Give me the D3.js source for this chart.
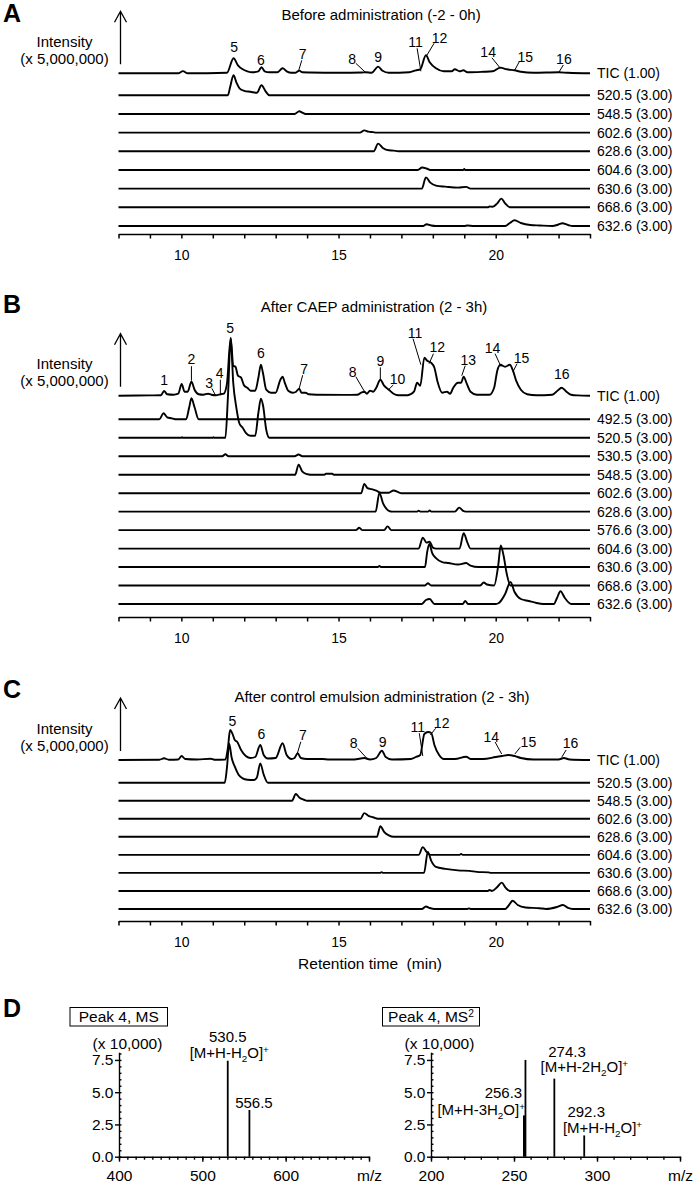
<!DOCTYPE html>
<html><head><meta charset="utf-8">
<script src="https://cdn.jsdelivr.net/npm/d3@7"></script>
<style>
body{margin:0;background:#fff}
svg{display:block}
text{font-family:"Liberation Sans",Arial,Helvetica,sans-serif;fill:#000}
</style>
</head><body><svg id="c" width="697" height="1183"></svg>
<script>
// ---------------- DATA ----------------
const timeDomain = [8, 23];
const timeTicks = [8,9,10,11,12,13,14,15,16,17,18,19,20,21,22,23];
const timeTickLabels = [10, 15, 20];

const titles = ["Before administration (-2 - 0h)", "After CAEP administration (2 - 3h)", "After control emulsion administration (2 - 3h)"];
const panelLetters = ["A", "B", "C"];
const ticMag = "1.00";
const eicMag = "3.00";

// TIC traces: [retention time (min), relative intensity]
const ticA = [[8,0],[9.9,0],[10.05,2.2],[10.2,0],[11.45,0.5],[11.66,15],[11.8,8],[11.95,4],[12.1,2],[12.25,1],[12.45,2],[12.55,6],[12.65,2],[12.8,1],[13.05,1],[13.22,5],[13.35,2],[13.5,0.5],[13.62,0.5],[13.75,2.7],[13.85,1],[14.1,0.8],[15.0,0.5],[15.75,0.8],[15.87,1],[16.05,0.5],[16.26,6.7],[16.4,2.5],[16.6,0.5],[17.25,1],[17.46,3],[17.6,4],[17.78,18],[17.9,11],[18.1,5],[18.35,2],[18.6,2],[18.7,4],[18.85,2],[18.97,3],[19.1,1],[19.6,1.5],[19.9,2],[20.15,5.7],[20.35,4],[20.6,3],[20.8,1.5],[21.2,0.5],[22.0,1],[22.3,0.5],[23,0]];
const ticB = [[8,0],[9.0,0.3],[9.35,0.5],[9.45,4.7],[9.55,1.5],[9.75,1],[9.9,2],[10.01,11.7],[10.1,4],[10.2,4],[10.32,14],[10.42,6],[10.55,1.5],[10.7,1],[10.85,2],[10.95,1],[11.1,0.5],[11.25,1.5],[11.35,2],[11.45,12],[11.57,58],[11.65,30],[11.72,29],[11.8,20],[11.9,18],[12.0,10],[12.1,8],[12.2,5],[12.35,5],[12.45,18],[12.53,31],[12.6,22],[12.7,6],[12.85,3],[13.0,3],[13.15,16],[13.22,19],[13.3,12],[13.4,5],[13.55,3],[13.65,4],[13.75,7],[13.82,3],[13.95,3],[14.05,1.5],[14.3,1],[15.2,0.8],[15.6,1],[15.72,3],[15.82,4],[15.9,2],[16.0,5],[16.1,4],[16.2,8],[16.33,16],[16.45,10],[16.6,6],[16.75,2],[16.9,0.5],[17.2,0.5],[17.4,4],[17.5,13],[17.6,10],[17.73,38],[17.82,35],[17.94,33],[18.05,28],[18.15,14],[18.3,3],[18.45,4],[18.55,2],[18.65,8],[18.8,13],[18.9,13],[18.98,19],[19.08,12],[19.2,4],[19.4,1],[19.8,1],[19.95,8],[20.05,25],[20.15,31],[20.3,29],[20.45,31],[20.55,25],[20.65,15],[20.8,6],[21.0,1.5],[21.3,0.5],[21.8,1],[22.0,6],[22.1,8],[22.25,4],[22.4,1],[22.6,0.3],[23,0]];
const ticC = [[8,0],[9.3,0.3],[9.45,1.7],[9.6,0.3],[9.9,0.5],[10.01,4],[10.12,1],[10.5,0.5],[10.93,1.3],[11.05,0.3],[11.4,0.5],[11.48,12],[11.55,30],[11.62,26.7],[11.7,20],[11.78,18],[11.9,10],[12.05,4],[12.2,2],[12.35,3],[12.51,15],[12.62,5],[12.75,1.5],[13.0,2],[13.22,16.7],[13.35,5],[13.5,1],[13.6,2],[13.7,6.7],[13.8,2],[14.0,1],[14.49,1],[14.7,0.5],[15.5,0.5],[15.82,2],[16.0,0.5],[16.2,2],[16.38,9.3],[16.5,3],[16.7,0.5],[17.3,1],[17.46,3],[17.6,5],[17.73,26],[17.85,28],[17.95,27],[18.05,15],[18.2,5],[18.35,1],[18.7,1],[19.06,3.3],[19.2,1],[19.6,1],[20.0,3],[20.2,4],[20.4,5],[20.6,4],[20.8,2],[21.2,0.5],[22.0,0.5],[22.17,2],[22.35,0.5],[23,0]];

// Extracted ion chromatograms (m/z) per panel
const eicNamesA = ["520.5","548.5","602.6","628.6","604.6","630.6","668.6","632.6"];
const eicDataA = [
  [[8,0],[11.48,0],[11.55,8],[11.66,20],[11.75,13],[11.85,7],[12.0,4.5],[12.2,3.5],[12.4,2.5],[12.55,10],[12.68,4],[12.8,0],[23,0]],
  [[8,0],[13.6,0],[13.75,2.7],[13.85,1.3],[13.95,0],[23,0]],
  [[8,0],[15.68,0],[15.82,2.3],[15.95,1],[16.1,0.5],[16.2,0],[23,0]],
  [[8,0],[16.12,0],[16.26,7.7],[16.42,3],[16.6,1],[16.75,0.7],[16.9,0],[23,0]],
  [[8,0],[17.52,0],[17.66,2.5],[17.8,1.5],[17.92,0],[18.97,0],[19.0,1],[19.03,0],[23,0]],
  [[8,0],[17.65,0],[17.78,11.3],[17.92,6],[18.1,3],[18.4,2],[18.8,1],[19.06,1.8],[19.2,0],[23,0]],
  [[8,0],[19.75,0],[19.8,0.8],[19.9,0.5],[20.05,4],[20.18,8.7],[20.3,4],[20.45,0],[23,0]],
  [[8,0],[17.7,0],[17.8,1.8],[17.95,0.5],[18.1,0],[19.0,0],[19.1,0.5],[19.3,0],[20.3,0],[20.45,3],[20.6,5.7],[20.8,3],[21.1,1],[21.4,0.5],[21.8,0],[22.0,1.5],[22.12,2.7],[22.3,1],[22.45,0],[23,0]]
];
const eicNamesB = ["492.5","520.5","530.5","548.5","602.6","628.6","576.6","604.6","630.6","668.6","632.6"];
const eicDataB = [
  [[8,0],[9.3,0],[9.43,6],[9.55,2],[9.7,1],[9.8,0],[10.15,0],[10.25,12],[10.32,21],[10.42,12],[10.55,0],[23,0]],
  [[8,0],[10.0,0],[10.02,0.6],[10.05,0],[11.0,0],[11.02,0.6],[11.05,0],[11.4,0],[11.48,40],[11.57,99],[11.65,55],[11.75,30],[11.85,14],[11.95,10],[12.05,5],[12.2,2],[12.35,2],[12.45,25],[12.53,39],[12.6,32],[12.7,8],[12.8,0],[23,0]],
  [[8,0],[11.3,0],[11.4,2],[11.5,0],[13.6,0],[13.73,1.7],[13.85,0],[23,0]],
  [[8,0],[13.62,0],[13.73,10],[13.85,3],[14.0,0.5],[14.1,0],[14.55,0],[14.6,1],[14.8,1],[14.85,0],[23,0]],
  [[8,0],[15.72,0],[15.82,9.3],[15.92,5],[16.05,4],[16.2,2.5],[16.35,0.5],[16.6,0.5],[16.75,2.7],[16.9,1],[17.0,0],[23,0]],
  [[8,0],[16.18,0],[16.3,18.7],[16.42,8],[16.52,3],[16.62,0.5],[16.7,0],[17.5,0],[17.55,1],[17.6,0],[17.85,0],[17.9,1.3],[17.95,0],[18.7,0],[18.84,4],[18.95,1],[19.05,0],[23,0]],
  [[8,0],[15.55,0],[15.66,2.3],[15.75,0],[16.45,0],[16.56,3.7],[16.68,0],[23,0]],
  [[8,0],[17.55,0],[17.68,11],[17.8,6],[17.9,7],[18.0,1],[18.1,0],[18.85,0],[18.98,15.3],[19.1,6],[19.2,0],[23,0]],
  [[8,0],[16.25,0],[16.3,1],[16.35,0],[17.75,0],[17.82,15],[17.89,23],[17.98,14],[18.1,9],[18.3,5],[18.5,4],[18.8,2.5],[19.06,4],[19.2,1.5],[19.45,0],[23,0]],
  [[8,0],[17.75,0],[17.84,2.3],[17.95,0],[19.5,0],[19.62,3],[19.72,1],[19.95,0],[20.08,20],[20.16,40],[20.25,30],[20.35,12],[20.47,0],[23,0]],
  [[8,0],[17.65,0],[17.78,4],[17.9,5],[18.05,0],[18.95,0],[19.03,3],[19.12,0],[20.0,0],[20.1,1],[20.3,10],[20.47,22],[20.6,12],[20.8,5],[21.05,3],[21.3,1],[21.5,0],[21.85,0],[21.95,6],[22.06,12.7],[22.2,6],[22.4,0],[23,0]]
];
const eicNamesC = ["520.5","548.5","602.6","628.6","604.6","630.6","668.6","632.6"];
const eicDataC = [
  [[8,0],[11.38,0],[11.45,15],[11.52,39],[11.6,25],[11.7,16],[11.82,8],[11.95,4.3],[12.1,3],[12.3,2.7],[12.4,5],[12.51,19.3],[12.62,8],[12.75,0],[23,0]],
  [[8,0],[13.52,0],[13.64,6.7],[13.76,3],[13.9,1],[14.0,0],[23,0]],
  [[8,0],[15.7,0],[15.82,5.7],[15.95,3],[16.1,1.5],[16.25,0],[23,0]],
  [[8,0],[16.22,0],[16.33,10.7],[16.45,5],[16.6,1.5],[16.75,0],[23,0]],
  [[8,0],[17.55,0],[17.68,7.7],[17.8,3],[17.92,0],[18.85,0],[18.9,1],[18.95,0],[23,0]],
  [[8,0],[16.32,0],[16.37,0.7],[16.42,0],[17.72,0],[17.84,21],[17.95,12],[18.1,6],[18.4,4],[18.8,2.5],[19.16,2],[19.4,1],[19.77,0.5],[19.85,0],[23,0]],
  [[8,0],[19.75,0],[19.8,1],[19.88,0],[20.05,4],[20.19,8.3],[20.32,3],[20.45,0],[23,0]],
  [[8,0],[17.65,0],[17.78,2.5],[17.9,1],[18.05,0],[19.1,0],[19.15,0.5],[19.2,0],[20.3,0],[20.4,3],[20.54,8.3],[20.7,4],[20.95,1.5],[21.4,0.8],[21.6,0],[21.95,2],[22.14,4],[22.3,1],[22.45,0],[23,0]]
];

// Peak labels: [label, time, level, leader (t1, level1, t2, level2) or null]
const peaksA = [
  ["5",11.68,26.6,null],["6",12.53,13.5,null],["7",13.86,19.3,[13.83,13,13.72,1.5]],
  ["8",15.43,14.3,[15.55,10,15.88,0.3]],["9",16.26,16,null],
  ["11",17.45,31.5,[17.5,25,17.62,2]],["12",18.21,35.3,[18.04,30,17.81,18]],
  ["14",19.76,21.3,[19.88,15.5,20.15,5]],["15",20.94,16.3,[20.75,11.6,20.6,2.8]],
  ["16",22.17,14.3,[22.15,8.3,22.0,0.5]]
];
const peaksB = [
  ["1",9.45,15.7,null],["2",10.32,36.3,[10.32,29.5,10.32,15]],["3",10.88,12.3,[10.97,7.3,11.08,0.8]],
  ["4",11.22,22.3,[11.24,16,11.24,1.7]],["5",11.55,67.3,null],["6",12.53,42.3,null],
  ["7",13.91,26.3,[13.86,20.5,13.75,7.5]],["8",15.45,24,[15.55,19,15.82,4.5]],
  ["9",16.33,35,[16.33,28.3,16.33,16]],["10",16.88,16.3,[16.74,10.7,16.58,5.7]],
  ["11",17.43,63,[17.37,57,17.62,31]],["12",18.14,49,[18.02,42,17.88,32]],
  ["13",19.13,35.7,[19.03,30,18.92,20]],["14",19.9,48,[19.98,42,20.17,29]],
  ["15",20.82,37.3,[20.68,32,20.55,24]],["16",22.1,21.3,null]
];
const peaksC = [
  ["5",11.62,39.3,null],["6",12.55,26,null],["7",13.87,25,[13.8,18.3,13.69,6.7]],
  ["8",15.48,16.7,[15.61,11.7,15.9,1.7]],["9",16.4,18.3,null],
  ["11",17.52,33.3,[17.57,26.7,17.68,4]],["12",18.28,36.7,[18.09,31.7,17.92,25]],
  ["14",19.86,23.3,[19.98,18,20.19,6]],["15",21.04,18.3,[20.78,12.7,20.61,6]],
  ["16",22.38,16.7,[22.24,10,22.1,2.7]]
];

// Mass spectra (intensity x 10,000)
const msMz = [530.5, 556.5];
const msInt = [7.44, 3.62];
const ms2Mz = [256.2, 256.9, 274.3, 292.3];
const ms2Int = [3.2, 7.5, 6.05, 1.65];
const msXTicks = [400, 500, 600];
const ms2XTicks = [200, 250, 300];
const msYTicks = [0, 2.5, 5.0, 7.5];

// ---------------- LAYOUT ----------------
const svg = d3.select("#c");
const FONT = 15;
const x = d3.scaleLinear().domain(timeDomain).range([118.5, 590]);
const lev = d3.scaleLinear().domain([0, 100]).range([0, 100]);

const layouts = [
  {ticY:73.3, eicY0:95.3, step:18.67, axisY:234, letterY:22, titleX:381, titleY:20},
  {ticY:395.7, eicY0:419.3, step:18.47, axisY:617, letterY:313, titleX:374, titleY:312},
  {ticY:760, eicY0:782.7, step:18.04, axisY:921, letterY:698, titleX:382, titleY:702}
];
const panelData = [
  {tic:ticA, names:eicNamesA, eics:eicDataA, peaks:peaksA},
  {tic:ticB, names:eicNamesB, eics:eicDataB, peaks:peaksB},
  {tic:ticC, names:eicNamesC, eics:eicDataC, peaks:peaksC}
];

panelData.forEach((pd, i) => {
  const L = layouts[i];
  const g = svg.append("g");
  g.append("text").attr("x", 3).attr("y", L.letterY).attr("font-size", 25).attr("font-weight", "bold").text(panelLetters[i]);
  g.append("text").attr("x", L.titleX).attr("y", L.titleY).attr("text-anchor", "middle").attr("font-size", FONT).text(titles[i]);
  // intensity arrow
  const ax = 120.5, tip = L.ticY - 62, bot = L.ticY - 9;
  g.append("path").attr("d", `M${ax},${bot}V${tip}M${ax-6},${tip+11}L${ax},${tip}L${ax+6},${tip+11}`)
    .attr("fill", "none").attr("stroke", "#000").attr("stroke-width", 1.3);
  g.append("text").attr("x", 64.5).attr("y", L.ticY - 26.5).attr("text-anchor", "middle").attr("font-size", FONT).text("Intensity");
  g.append("text").attr("x", 64.5).attr("y", L.ticY - 9.5).attr("text-anchor", "middle").attr("font-size", FONT).text("(x 5,000,000)");

  const traces = [{base:L.ticY, data:pd.tic, label:"TIC (" + ticMag + ")"}]
    .concat(pd.eics.map((d, k) => ({base:L.eicY0 + k * L.step, data:d, label:pd.names[k] + " (" + eicMag + ")"})));
  traces.forEach(tr => {
    const line = d3.line().x(d => x(d[0])).y(d => tr.base - lev(d[1])).curve(d3.curveMonotoneX);
    g.append("path").attr("d", line(tr.data)).attr("fill", "none").attr("stroke", "#000")
      .attr("stroke-width", 1.9).attr("stroke-linejoin", "round");
    g.append("text").attr("x", 597).attr("y", tr.base + 5).attr("font-size", 14).text(tr.label);
  });

  pd.peaks.forEach(p => {
    g.append("text").attr("x", x(p[1])).attr("y", L.ticY - lev(p[2]) + 5).attr("text-anchor", "middle").attr("font-size", 14).text(p[0]);
    if (p[3]) {
      const q = p[3];
      g.append("line").attr("x1", x(q[0])).attr("y1", L.ticY - lev(q[1])).attr("x2", x(q[2])).attr("y2", L.ticY - lev(q[3]))
        .attr("stroke", "#000").attr("stroke-width", 1);
    }
  });

  const axis = d3.axisBottom(x).tickValues(timeTicks).tickSize(4.5).tickSizeOuter(0).tickPadding(11.5)
    .tickFormat(d => timeTickLabels.includes(d) ? d : "");
  const ag = g.append("g").attr("transform", `translate(0,${L.axisY})`).call(axis);
  ag.selectAll("path,line").attr("stroke", "#000").attr("stroke-width", 1.5);
  ag.selectAll("text").attr("font-size", 14).attr("font-family", null);
});

svg.append("text").attr("x", 370).attr("y", 968.5).attr("text-anchor", "middle").attr("font-size", 15.5)
  .style("white-space", "pre").text("Retention time  (min)");

// ---------------- PANEL D ----------------
svg.append("text").attr("x", 3).attr("y", 1017).attr("font-size", 25).attr("font-weight", "bold").text("D");

const yD = d3.scaleLinear().domain([0, 8.1]).range([1156.7, 1052.2]);

function richText(sel, parts, size) {
  let shift = 0;
  parts.forEach(([s, kind]) => {
    const target = kind === "sub" ? 4 : kind === "sup" ? -5 : 0;
    sel.append("tspan").attr("dy", target - shift).attr("font-size", kind ? size * 0.66 : size).text(s);
    shift = target;
  });
}

function spectrum(cfg) {
  const g = svg.append("g");
  const xs = d3.scaleLinear().domain(cfg.domain).range(cfg.range);
  // box title
  g.append("rect").attr("x", cfg.box[0]).attr("y", 1007.5).attr("width", cfg.box[1] - cfg.box[0]).attr("height", 18.5)
    .attr("fill", "none").attr("stroke", "#000").attr("stroke-width", 1);
  const bt = g.append("text").attr("x", (cfg.box[0] + cfg.box[1]) / 2).attr("y", 1022).attr("text-anchor", "middle");
  richText(bt, cfg.boxText, 15.5);
  g.append("text").attr("x", cfg.range[0] + 8.5).attr("y", 1048.5).attr("text-anchor", "middle").attr("font-size", 15.5).text("(x 10,000)");

  // y axis: major left, minor right
  const ya = g.append("g").attr("transform", `translate(${cfg.range[0]},0)`)
    .call(d3.axisLeft(yD).tickValues(msYTicks).tickFormat(d3.format(".1f")).tickSize(4).tickSizeOuter(0).tickPadding(1.5));
  ya.selectAll("text").attr("font-size", 15.5).attr("font-family", null);
  g.append("g").attr("transform", `translate(${cfg.range[0]},0)`)
    .call(d3.axisRight(yD).tickValues(d3.range(0, 8.01, 0.5)).tickSize(2.5).tickSizeOuter(0).tickFormat(""))
    .select(".domain").remove();

  // x axis: major + minor
  const xa = g.append("g").attr("transform", `translate(0,${yD(0)})`)
    .call(d3.axisBottom(xs).tickValues(cfg.ticks.concat([cfg.domain[1]])).tickSize(5).tickSizeOuter(0).tickPadding(8)
      .tickFormat(d => d === cfg.domain[1] ? "m/z" : d));
  xa.selectAll("text").attr("font-size", 15.5).attr("font-family", null);
  g.append("g").attr("transform", `translate(0,${yD(0)})`)
    .call(d3.axisBottom(xs).tickValues(d3.range(cfg.domain[0], cfg.domain[1] + 0.1, 10)).tickSize(3).tickFormat(""))
    .select(".domain").remove();
  g.selectAll(".domain,.tick line").attr("stroke", "#000").attr("stroke-width", 1.4);

  // peaks
  cfg.mz.forEach((m, k) => {
    g.append("line").attr("x1", xs(m)).attr("x2", xs(m)).attr("y1", yD(0)).attr("y2", yD(cfg.int[k]))
      .attr("stroke", "#000").attr("stroke-width", cfg.widths[k]);
  });
  // annotations
  cfg.notes.forEach(n => {
    const t = g.append("text").attr("x", xs(n.mz) + n.dx).attr("y", yD(n.lvl) + n.dy).attr("text-anchor", n.anchor || "middle");
    richText(t, n.parts, 15);
  });
}

const ionH2O = [["[M+H-H",""],["2","sub"],["O]",""],["+","sup"]];
const ion2H2O = [["[M+H-2H",""],["2","sub"],["O]",""],["+","sup"]];
const ion3H2O = [["[M+H-3H",""],["2","sub"],["O]",""],["+","sup"]];

spectrum({
  domain:[400,700], range:[119,369], ticks:msXTicks, box:[70,167.5],
  boxText:[["Peak 4, MS",""]], mz:msMz, int:msInt, widths:[1.8,1.8],
  notes:[
    {mz:msMz[0], lvl:msInt[0], dx:0, dy:-18.5, parts:[[String(msMz[0]),""]]},
    {mz:msMz[0], lvl:msInt[0], dx:1.5, dy:-3, parts:ionH2O},
    {mz:msMz[1], lvl:msInt[1], dx:4.5, dy:-2, parts:[[String(msMz[1]),""]]}
  ]
});
spectrum({
  domain:[200,350], range:[431,680], ticks:ms2XTicks, box:[382.5,479.5],
  boxText:[["Peak 4, MS",""],["2","sup"]], mz:ms2Mz, int:ms2Int, widths:[2.6,1.8,1.8,1.8],
  notes:[
    {mz:256.3, lvl:ms2Int[0], dx:-21, dy:-17.5, parts:[["256.3",""]]},
    {mz:256.3, lvl:ms2Int[0], dx:0.5, dy:-0.5, anchor:"end", parts:ion3H2O},
    {mz:ms2Mz[2], lvl:ms2Int[2], dx:12.7, dy:-22, parts:[[String(ms2Mz[2]),""]]},
    {mz:ms2Mz[2], lvl:ms2Int[2], dx:30, dy:-7, parts:ion2H2O},
    {mz:ms2Mz[3], lvl:ms2Int[3], dx:2, dy:-18.5, parts:[[String(ms2Mz[3]),""]]},
    {mz:ms2Mz[3], lvl:ms2Int[3], dx:18.3, dy:-2.4, parts:ionH2O}
  ]
});
</script></body></html>
